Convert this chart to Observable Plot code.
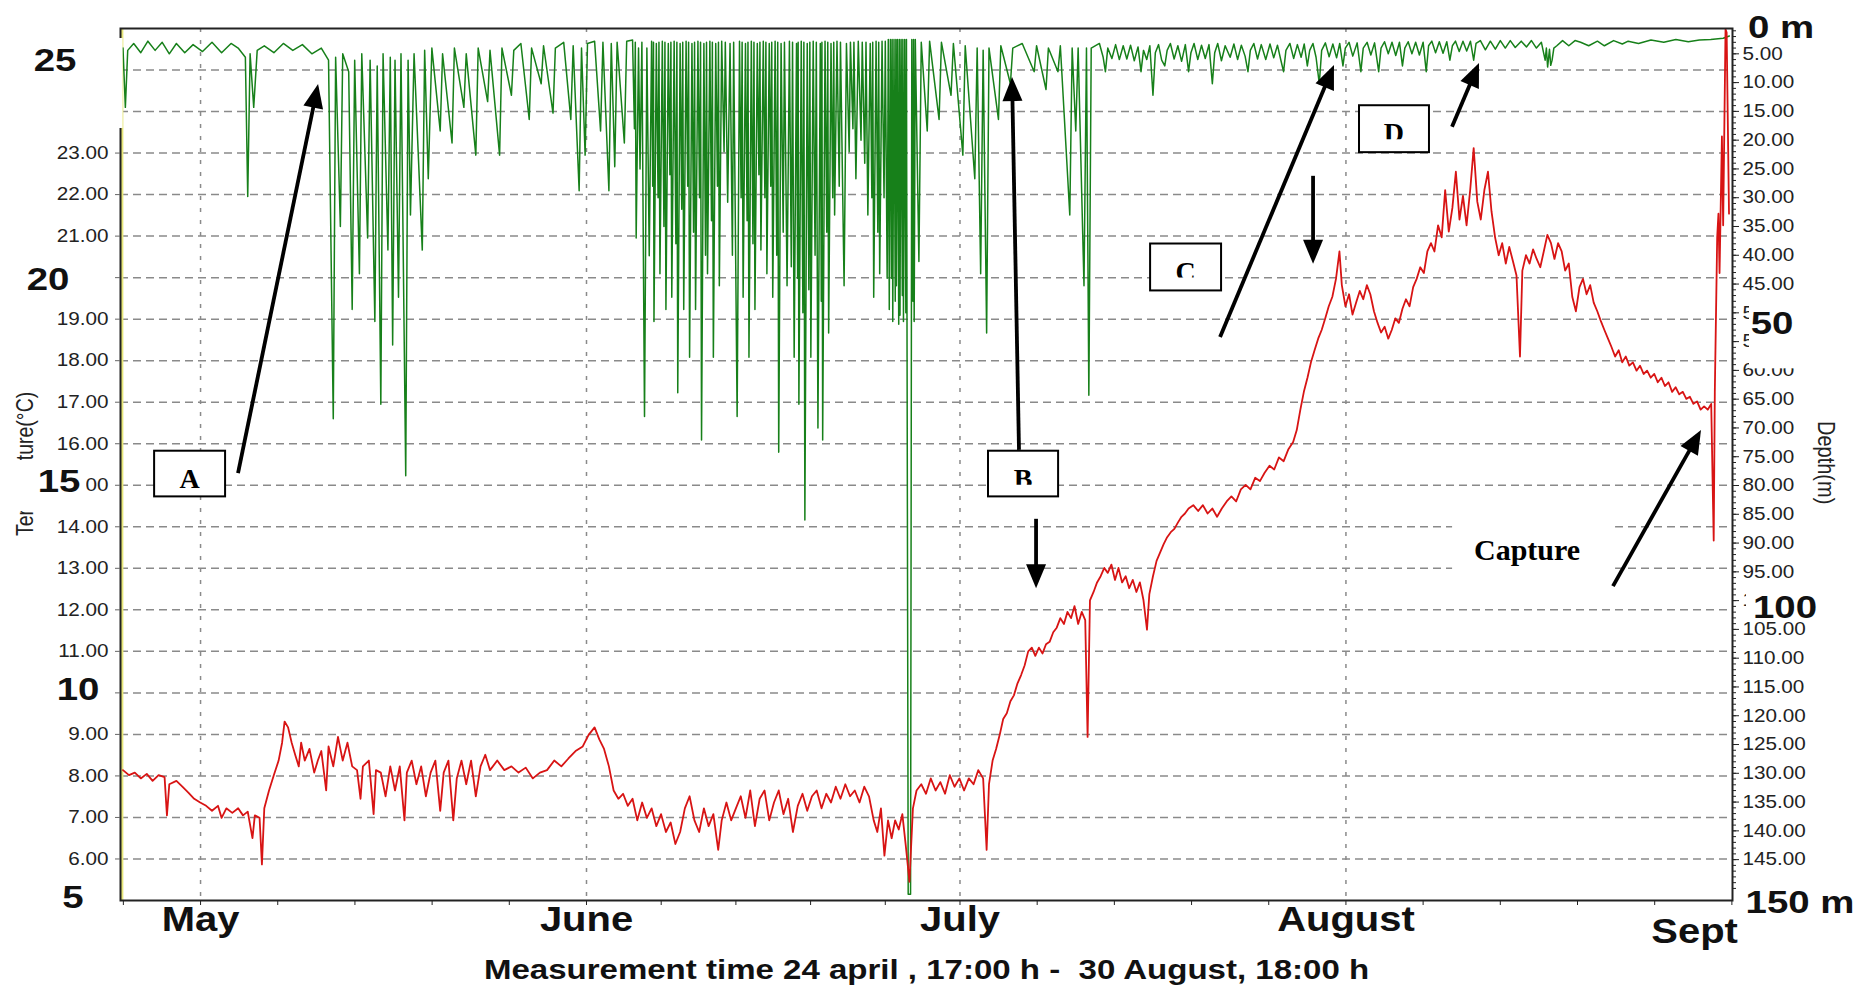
<!DOCTYPE html>
<html><head><meta charset="utf-8">
<script src="https://cdn.jsdelivr.net/npm/d3@7"></script>
<script src="https://cdn.jsdelivr.net/npm/@observablehq/plot@0.6"></script>
<style>
html,body{margin:0;padding:0;background:#fff;}
#chart{width:1863px;height:985px;overflow:hidden;}
</style></head><body><div id="chart"></div>
<script>
// Time axis: days counted from 1 May 00:00 (negative values = late April)
const monthNames = ["May", "June", "July", "August", "Sept"];
const monthStartDays = [0, 31, 61, 92, 123];
const gridMonthDays = [0, 31, 61, 92];
const xTickDays = [-6.2, 0, 6.2, 12.4, 18.6, 24.8, 31, 37, 43, 49, 55, 61, 67.2, 73.4, 79.6, 85.8, 92, 98.2, 104.4, 110.6, 116.8, 123];
const startDay = -6.3; // 24 April 17:00

// Temperature axis (left)
const tempGridValues = [6, 7, 8, 9, 10, 11, 12, 13, 14, 15, 16, 17, 18, 19, 20, 21, 22, 23, 24, 25];
const tempLabelValues = [6, 7, 8, 9, 11, 12, 13, 14, 15, 16, 17, 18, 19, 21, 22, 23];
const bigTempLabels = ["25", "20", "15", "10", "5"];
const bigTempValues = [25, 20, 15, 10, 5];

// Depth axis (right)
const depthLabelTicks = [5, 10, 15, 20, 25, 30, 35, 40, 45, 50, 55, 60, 65, 70, 75, 80, 85, 90, 95, 100, 105, 110, 115, 120, 125, 130, 135, 140, 145];
const bigDepthLabels = ["0 m", "50", "100", "150 m"];
const bigDepthValues = [0, 50, 100, 150];

// Temperature series (°C)
const tempDays = [-6.23,-5.75,-5.28,-4.8,-4.32,-3.85,-3.37,-2.89,-2.7,-2.51,-1.94,-1.46,-0.98,-0.51,-0.03,0.45,0.92,1.4,1.69,2.07,2.55,3.02,3.41,3.79,4.17,4.36,4.74,4.93,5.12,5.5,5.89,6.27,6.55,6.75,7.03,7.32,7.6,7.89,8.08,8.37,8.75,9.13,9.42,9.7,10.09,10.28,10.66,11.04,11.42,11.8,12.18,12.57,12.85,13.04,13.52,13.9,14.09,14.48,14.86,15.24,15.62,16,16.38,16.57,16.96,17.34,17.72,18.1,18.48,18.86,19.25,19.53,19.91,20.3,20.58,20.96,21.34,21.73,22.11,22.49,22.87,23.25,23.83,24.4,24.97,25.54,26.12,26.69,27.26,27.83,28.41,28.98,29.55,30.12,30.7,31.17,31.65,32.03,32.41,32.8,33.18,33.56,33.94,34.32,34.7,35.08,35.47,35.85,36.23,36.61,36.99,37.38,37.76,38.14,38.52,38.9,39.28,39.67,40.05,40.43,40.81,41.19,41.58,41.86,42.24,42.62,43,43.39,43.77,44.15,44.53,44.91,45.3,45.68,46.06,46.44,46.82,47.2,47.58,47.97,48.35,48.73,49.11,49.49,49.88,50.26,50.64,51.02,51.4,51.79,52.17,52.55,52.93,53.31,53.69,54.07,54.36,54.65,54.93,55.22,55.51,55.79,56.08,56.37,56.65,56.94,57.22,57.51,57.89,58.27,58.65,59.04,59.42,59.8,60.18,60.56,60.95,61.33,61.71,62.09,62.47,62.86,63.14,63.33,63.62,63.9,64.19,64.47,64.76,65.05,65.33,65.62,65.91,66.19,66.48,66.77,67.05,67.34,67.63,67.91,68.2,68.49,68.77,69.06,69.35,69.63,69.92,70.2,70.49,70.78,71.06,71.25,71.44,71.73,72.01,72.3,72.59,72.87,73.16,73.45,73.73,74.02,74.31,74.59,74.88,75.17,75.45,75.74,76.02,76.21,76.5,76.79,77.07,77.36,77.64,77.93,78.22,78.5,78.79,79.07,79.36,79.74,80.13,80.51,80.89,81.27,81.65,82.03,82.42,82.8,83.18,83.56,83.95,84.33,84.71,85.09,85.47,85.86,86.24,86.62,87,87.38,87.76,88.05,88.34,88.62,88.91,89.19,89.48,89.77,90.05,90.34,90.62,90.91,91.2,91.48,91.67,91.96,92.25,92.53,92.82,93.11,93.39,93.68,93.96,94.25,94.54,94.82,95.11,95.4,95.68,95.97,96.25,96.54,96.82,97.11,97.4,97.68,97.97,98.26,98.54,98.83,99.11,99.4,99.69,99.97,100.26,100.55,100.83,101.12,101.4,101.69,101.98,102.26,102.55,102.83,103.12,103.41,103.69,103.98,104.27,104.55,104.84,105.12,105.41,105.7,105.98,106.17,106.46,106.75,107.03,107.32,107.61,107.89,108.18,108.47,108.75,109.04,109.33,109.61,109.9,110.18,110.47,110.76,111.04,111.33,111.62,111.9,112.19,112.47,112.76,113.05,113.33,113.62,113.91,114.19,114.48,114.76,115.05,115.34,115.62,115.91,116.19,116.48,116.77,117.05,117.34,117.62,117.91,118.2,118.48,118.77,119.06,119.34,119.63,119.91,120.2,120.49,120.77,121.06,121.34,121.54,121.63,121.82,121.92,122.01,122.2,122.3,122.49,122.58,122.77];
const tempValues = [8.14,8.02,8.08,7.94,8.05,7.88,8.02,7.97,7.05,7.8,7.88,7.74,7.6,7.45,7.36,7.28,7.16,7.28,6.99,7.22,7.11,7.22,7.05,7.14,6.5,7.05,6.99,5.87,7.22,7.65,8.02,8.37,8.8,9.31,9.17,8.8,8.51,8.23,8.8,8.37,8.65,8.08,8.37,8.6,7.65,8.71,8.23,8.94,8.37,8.8,8.23,8.14,7.45,8.23,8.37,7.08,8.14,8.08,7.51,8.23,7.65,8.23,6.93,8.08,8.37,7.8,8.23,7.51,8.08,8.37,7.16,8.08,8.37,6.93,7.94,8.37,7.8,8.37,7.51,8.23,8.51,8.14,8.37,8.14,8.23,8.08,8.2,7.94,8.08,8.14,8.37,8.23,8.42,8.6,8.71,8.99,9.17,8.88,8.65,8.23,7.65,7.45,7.57,7.28,7.45,6.93,7.36,6.99,7.22,6.79,7.08,6.65,6.88,6.36,6.65,7.22,7.51,6.93,6.65,7.22,6.79,7.08,6.22,6.93,7.36,6.93,7.22,7.51,6.99,7.65,6.79,7.45,7.65,6.93,7.36,7.65,7.08,7.45,6.65,7.28,7.57,7.16,7.51,7.65,7.22,7.57,7.36,7.74,7.45,7.8,7.51,7.65,7.36,7.74,7.51,6.93,6.65,7.22,6.08,6.93,6.5,6.93,6.71,7.08,6.31,5.45,7.22,7.65,7.8,7.57,7.94,7.65,7.85,7.57,8.02,7.74,7.94,7.65,7.94,7.8,8.14,7.94,6.22,7.8,8.37,8.65,8.99,9.37,9.51,9.8,9.94,10.23,10.43,10.66,11,11.09,10.89,11.09,10.95,11.17,11.23,11.46,11.57,11.8,11.66,11.95,11.8,12.09,11.66,11.95,11.75,8.94,12.23,12.43,12.66,12.81,13.01,12.89,13.09,12.72,13.01,12.66,12.81,12.52,12.72,12.43,12.66,12.23,11.52,12.38,12.81,13.18,13.38,13.58,13.75,13.87,13.95,14.1,14.24,14.32,14.44,14.52,14.38,14.52,14.32,14.44,14.24,14.44,14.61,14.73,14.61,14.9,15.01,14.9,15.18,15.1,15.3,15.47,15.38,15.67,15.58,15.87,16.04,16.33,16.82,17.25,17.59,17.96,18.25,18.53,18.74,19.02,19.31,19.54,19.97,20.63,19.82,19.31,19.6,19.11,19.4,19.68,19.48,19.82,19.6,19.19,18.91,18.68,18.82,18.53,18.74,19.02,18.91,19.25,19.48,19.31,19.77,19.97,20.25,20.11,20.63,20.83,20.63,21.26,20.97,22.11,21.11,21.68,22.55,21.4,21.97,21.26,22.11,23.12,21.83,21.4,22.11,22.55,21.6,20.97,20.54,20.83,20.34,20.74,20.4,20.05,18.1,20.17,20.54,20.34,20.68,20.45,20.25,20.63,21.03,20.83,20.45,20.83,20.63,20.17,20.34,19.54,19.19,19.77,19.97,19.6,19.82,19.4,19.19,18.96,18.74,18.53,18.33,18.1,18.25,17.96,18.1,17.88,17.96,17.76,17.88,17.68,17.76,17.59,17.68,17.48,17.59,17.39,17.48,17.25,17.36,17.19,17.25,17.08,17.13,16.96,17.02,16.82,16.9,16.82,16.96,13.67,17.25,20.97,21.54,20.11,23.4,21.26,25.98,25.9,21.54];

// Depth series: [day, depth in m]
const depthSeries = [
[-6.23,4],[-6.04,14.3],[-5.85,4.4],[-5.37,3.2],[-4.8,4.8],[-4.23,2.8],[-3.65,4.4],[-3.08,3],[-2.51,5],[-1.94,3.2],[-1.27,4.8],[-0.6,3.4],[0.16,4.6],[0.92,3],[1.69,4.8],[2.45,3.2],[3.02,4],[3.6,5.6],[3.79,29.8],[3.98,5],[4.27,14.3],[4.55,4.4],[5.12,3.6],[5.89,4.8],[6.65,3.2],[7.41,4.4],[8.18,3.4],[8.94,5],[9.7,4],[10.28,6.1],[10.66,68.4],[10.85,5.6],[11.23,35],[11.42,5],[11.9,8.1],[12.18,49.4],[12.38,6.1],[12.76,43.2],[12.95,5],[13.42,37],[13.62,6.1],[14,51.5],[14.19,7.1],[14.48,65.9],[14.66,5],[15.05,39.1],[15.24,5.6],[15.43,55.6],[15.62,6.1],[15.9,47.3],[16.1,5],[16.48,78.3],[16.67,6.1],[16.86,33],[17.15,5],[17.81,39.1],[18,4.4],[18.29,26.7],[18.58,4],[19.25,18.4],[19.44,5],[20.2,20.5],[20.39,4],[21.15,14.3],[21.34,5],[22.11,22.6],[22.3,4],[23.06,13.3],[23.25,4.4],[24.02,22.6],[24.21,4],[24.97,12.2],[25.16,4.4],[25.73,3.2],[26.4,16.4],[26.59,4],[27.36,10.2],[27.55,3.6],[28.31,15.3],[28.5,4],[29.17,3],[29.74,16.4],[29.93,3.6],[30.41,28.8],[30.6,4],[30.89,22.6],[31.08,3.2],[31.65,2.8],[32.13,18.4],[32.32,3],[32.8,28.8],[32.99,3.2],[33.27,24.6],[33.46,3],[34.04,20.5],[34.23,2.8],
[34.7,2.6],[34.85,18],[34.92,3],[34.99,37],[35.18,4],[35.3,25],[35.45,3],[35.66,68],[35.85,4],[36.04,40.1],[36.23,2.8],[36.32,28],[36.38,3],[36.42,51.5],[36.61,3.2],[36.75,30],[36.82,3],[36.9,43.2],[37.09,2.8],[37.22,35],[37.3,3],[37.38,49.4],[37.57,3.2],[37.7,26],[37.78,3],[37.85,47.3],[38.04,2.8],[38.18,38],[38.26,3],[38.33,63.9],[38.52,3.2],[38.65,32],[38.73,3],[38.81,49.4],[39,2.8],[39.13,28],[39.2,3],[39.28,57.7],[39.47,3.2],[39.6,36],[39.68,3],[39.76,49.4],[39.95,2.8],[40.08,30],[40.16,3],[40.24,72.1],[40.43,3.2],[40.56,40],[40.64,3],[40.72,43.2],[40.91,2.8],[41.04,34],[41.11,3],[41.19,57.7],[41.38,3.2],[41.52,28],[41.6,3],[41.67,45.3],[41.86,2.8],[42.05,22],[42.15,3],[42.34,30.8],[42.53,3.2],[42.72,40],[42.82,3],[43.1,68],[43.29,2.8],[43.42,30],[43.5,3],[43.58,47.3],[43.77,3.2],[43.9,34],[43.97,3],[44.05,57.7],[44.24,2.8],[44.37,38],[44.45,3],[44.53,49.4],[44.72,3.2],[44.85,26],[44.93,3],[45.01,39.1],[45.2,2.8],[45.33,30],[45.41,3],[45.49,43.2],[45.68,3.2],[45.8,28],[45.88,3],[45.96,47.3],[46.15,2.8],[46.28,40],[46.36,3],[46.44,74.2],[46.63,3.2],[46.8,36],[46.9,3],[47.11,45.3],[47.3,2.8],[47.45,42],[47.55,3],[47.68,57.7],[47.87,3.2],[47.96,44],[48,3],[48.06,65.9],[48.25,2.8],[48.38,50],[48.46,3],[48.54,86],[48.73,3.2],[48.86,46],[48.94,3],[49.02,57.7],[49.21,2.8],[49.36,40],[49.46,3],[49.59,70],[49.78,3.2],[49.86,48],[49.91,3],[49.97,72.1],[50.16,2.8],[50.3,36],[50.38,3],[50.45,53.5],[50.64,3.2],[50.78,30],[50.86,3],[50.93,33],[51.12,2.8],[51.3,28],[51.4,3],[51.69,45.3],[51.88,3.2],[52.1,22],[52.2,3],[52.4,18],[52.48,3],[52.64,26.7],[52.83,2.8],[53.05,20],[53.15,3],[53.35,24],[53.45,3],[53.6,33],[53.79,3.2],[53.92,30],[53.99,3],[54.07,47.3],[54.26,2.8],[54.4,36],[54.47,3],[54.55,43.2],[54.74,2.8],[54.9,30],[55,2.8],[55.15,44],[55.24,2.5],
[55.32,49.4],[55.41,2.5],[55.5,44],[55.55,2.5],[55.6,51.5],[55.7,2.5],[55.8,48],[55.85,2.5],[55.89,45.3],[55.98,2.5],[56.08,52],[56.13,2.5],[56.18,50.4],[56.27,2.5],[56.37,47],[56.41,2.5],[56.46,51.5],[56.56,2.5],[56.65,50],[56.7,2.5],[56.75,57.7],[56.84,151],[57.03,151],[57.13,2.5],[57.22,48],[57.27,2.5],[57.32,51.5],[57.41,2.5],
[57.7,41.1],[57.89,3],[58.37,18.4],[58.56,2.8],[59.32,16.4],[59.51,3],[60.28,12.2],[60.47,3.2],[61.23,22.6],[61.42,3.6],[62.19,26.7],[62.38,4],[62.66,43.2],[62.86,4.4],[63.14,53.5],[63.33,4],[64.09,16.4],[64.28,3.6],[65.05,10.2],[65.24,4],[66,3.2],[66.96,8.1],[67.15,3.6],[67.91,11.2],[68.1,4],[68.87,8.1],[69.06,3.6],[69.82,33],[70.01,4],[70.3,18.4],[70.49,4],[70.96,45.3],[71.16,4],[71.35,64.3],[71.54,4],
[72.2,3.2],[72.5,5.6],[72.68,8.1],[72.87,4],[73.2,5.8],[73.5,3.4],[73.8,6],[74.11,3.6],[74.4,5.9],[74.7,3.5],[75,6.2],[75.3,3.8],[75.54,8.1],[75.74,4.4],[76,6],[76.25,3.6],[76.5,12.2],[76.69,4.8],[76.95,3.4],[77.2,6.1],[77.45,7.1],[77.64,4.4],[77.9,3.2],[78.2,5.9],[78.5,3.6],[78.8,6.3],[79.1,3.4],[79.36,8.1],[79.55,4.8],[79.8,3.2],[80.1,6],[80.4,3.5],[80.7,5.8],[81,3.4],[81.27,10.2],[81.46,4.8],[81.7,3.2],[82,6.2],[82.3,3.6],[82.7,5.6],[83,3.3],[83.3,6],[83.6,3.5],[83.9,5.4],[84.13,8.1],[84.32,4.4],[84.6,3.2],[84.9,5.9],[85.2,3.4],[85.56,6],[85.9,3.3],[86.2,5.7],[86.5,3.5],[86.75,5.9],[86.99,8.1],[87.18,4.4],[87.5,3.2],[87.8,5.8],[88.1,3.4],[88.4,5.6],[88.65,3.3],[88.9,7.1],[89.09,4.4],[89.35,3.2],[89.6,5.6],[89.86,10.2],[90.05,4.4],[90.35,3.1],[90.65,5.5],[90.95,3.3],[91.25,5.7],[91.5,3.2],[91.76,7.1],[91.95,4],[92.25,3],[92.55,5.4],[92.9,3.1],[93.2,8.1],[93.39,4],[93.7,3],[94,5.2],[94.3,3.1],[94.63,8.1],[94.82,4],[95.1,2.9],[95.4,5],[95.7,3],[96,5.3],[96.3,3],[96.54,7.1],[96.73,4],[97,2.9],[97.3,5],[97.6,3],[97.9,5.2],[98.2,3],[98.45,8.1],[98.64,3.6],[98.9,2.8],[99.2,4.8],[99.5,2.9],[99.8,4.9],[100.1,2.9],[100.35,6.1],[100.55,3.6],[100.8,2.8],[101.1,4.6],[101.4,2.8],[101.7,4.5],[102,2.8],[102.26,6.1],[102.45,3.2],[102.8,2.7],[103.2,4.3],[103.6,2.8],[104,4.2],[104.4,2.7],[104.8,4],[105.2,2.7],[105.6,3.9],[106.08,2.8],[106.5,3.8],[106.9,2.7],[107.3,4],[107.7,3],[108,6.1],[108.1,4],[108.2,7.3],[108.35,4.2],[108.45,7],[108.56,6.1],[108.7,4],[108.94,3.6],[109.4,2.7],[109.9,3.6],[110.4,2.7],[110.85,3],[111.5,3.6],[112.2,2.8],[112.76,3.6],[113.5,2.7],[114.2,3.3],[114.67,2.8],[115.5,3.2],[116.5,2.6],[117.53,3],[118.5,2.5],[119.5,2.9],[120.39,2.6],[121.3,2.5],[122.3,2.3],[122.8,1.9]
];

// Annotations (boxes, arrows, text) placed in data coordinates
const boxLabels = ["A", "B", "C", "D"];
const boxDay1 = [-3.69, 63.29, 76.31, 93.09];
const boxDay2 = [2.01, 68.92, 82.01, 98.71];
const boxTempLow = [14.72, 14.72, 19.68, 23.01];
const boxTempHigh = [15.82, 15.82, 20.81, 24.14];
const arrowFromDay = [3.05, 65.78, 67.15, 81.93, 89.4, 100.56, 113.49];
const arrowFromTemp = [15.28, 15.84, 14.18, 18.56, 22.44, 23.62, 12.56];
const arrowToDay = [9.48, 65.22, 67.15, 91.08, 89.4, 102.73, 120.56];
const arrowToTemp = [24.65, 24.82, 12.51, 25.11, 20.32, 25.16, 16.32];
const captureLabel = "Capture";
const captureDay = 106.59, captureTemp = 13.43;
const xCaption = "Measurement time 24 april , 17:00 h -  30 August, 18:00 h";
const leftTitle = "Temperature(°C)";
const rightTitle = "Depth(m)";

// ---- derived tables ----
const tempTable = tempDays.map((d, i) => ({day: d, temp: tempValues[i]}));
const depthTable = depthSeries.map(([d, m]) => ({day: d, depth: m}));
const monthTable = monthNames.map((n, i) => ({name: n, day: monthStartDays[i]}));
const boxes = boxLabels.map((l, i) => ({label: l, d1: boxDay1[i], d2: boxDay2[i], t1: boxTempLow[i], t2: boxTempHigh[i]}));
const arrows = arrowFromDay.map((d, i) => ({x1: d, y1: arrowFromTemp[i], x2: arrowToDay[i], y2: arrowToTemp[i]}));

const tempDomain = [5, 26];
const depthAtTop = 0.6, depthAtBottom = 152.1; // depth scale read at the frame's top and bottom
const depthToT = d => tempDomain[1] - (d - depthAtTop) * (tempDomain[1] - tempDomain[0]) / (depthAtBottom - depthAtTop);
const tToDepth = t => depthAtTop + (tempDomain[1] - t) * (depthAtBottom - depthAtTop) / (tempDomain[1] - tempDomain[0]);
const depthMinorTicks = d3.range(1, 151);
const labelSet = new Set(tempLabelValues);
const SANS = "Liberation Sans, Arial, sans-serif";
const SERIF = "Liberation Serif, Times New Roman, serif";

function titlesMark() {
  const g = d3.create("svg:g");
  g.append("text").attr("transform", `translate(33,536) rotate(-90) scale(1,1.2)`).attr("text-anchor", "start")
    .attr("font-size", 19.5).attr("font-family", SANS).attr("fill", "#222").text(leftTitle);
  g.append("text").attr("transform", `translate(1818,421) rotate(90) scale(1,1.2)`).attr("text-anchor", "start")
    .attr("font-size", 20).attr("font-family", SANS).attr("fill", "#222").text(rightTitle);
  return g.node();
}

function covers(index, scales, values, dim) {
  const g = d3.create("svg:g");
  const L = dim.marginLeft, R = dim.width - dim.marginRight;
  const Y = scales.y;
  const rects = [
    [0, 38, L + 2.5, 128 - 38],
    [18, Y(20) - 13, L - 14 - 18, 27],
    [28, Y(15) - 16, 86 - 28, 30],
    [48, Y(10) - 16, L - 10 - 48, 28],
    [6, 460, 34, 51],
    [R + 17, Y(depthToT(50)) - 14, 120, 70],
    [R + 14, Y(depthToT(100)) - 12, 120, 26]
  ];
  for (const [x, y, w, h] of rects) g.append("rect").attr("x", x).attr("y", y).attr("width", w).attr("height", h).attr("fill", "white");
  return g.node();
}

function bigText(g, cx, cy, str, size, sx) {
  g.append("text").attr("transform", `translate(${cx},${cy}) scale(${sx},1)`)
    .attr("text-anchor", "middle").attr("y", 0.36 * size)
    .attr("font-size", size).attr("font-weight", "bold").attr("font-family", SANS)
    .attr("fill", "#111").text(str);
}

function labelsMark(index, scales, values, dim) {
  const g = d3.create("svg:g");
  const L = dim.marginLeft, R = dim.width - dim.marginRight;
  const Y = scales.y;
  const leftDx = [-65, -72, -61, -42, -47];
  const leftDy = [-10, 1, -4, -4, -4];
  bigTempLabels.forEach((s, i) => bigText(g, L + leftDx[i], Y(bigTempValues[i]) + leftDy[i], s, 32, 1.2));
  const rightDx = [49, 40, 53, 68];
  const rightDy = [1.5, 10, 6, 14];
  bigDepthLabels.forEach((s, i) => bigText(g, R + rightDx[i], Y(depthToT(bigDepthValues[i])) + rightDy[i], s, 32, 1.2));
  return g.node();
}

function boxesMark(index, scales) {
  const g = d3.create("svg:g");
  const defs = g.append("defs");
  boxes.forEach((b, i) => {
    const x1 = scales.x(b.d1), x2 = scales.x(b.d2), y1 = scales.y(b.t2), y2 = scales.y(b.t1);
    const id = "boxclip" + i;
    defs.append("clipPath").attr("id", id).append("rect")
      .attr("x", x1).attr("y", y1).attr("width", x2 - x1).attr("height", b.label === "A" ? 38 : 34);
    g.append("rect").attr("x", x1).attr("y", y1).attr("width", x2 - x1).attr("height", y2 - y1)
      .attr("fill", "white").attr("stroke", "#000").attr("stroke-width", 2);
    g.append("text").attr("clip-path", `url(#${id})`)
      .attr("x", (x1 + x2) / 2).attr("y", y1 + 37).attr("text-anchor", "middle")
      .attr("font-family", SERIF).attr("font-weight", "bold").attr("font-size", 28).attr("fill", "#000")
      .text(b.label);
  });
  const cx = scales.x(captureDay), cy = scales.y(captureTemp);
  g.append("rect").attr("x", cx - 75).attr("y", cy - 30).attr("width", 163).attr("height", 60).attr("fill", "white");
  g.append("text").attr("x", cx).attr("y", cy + 10).attr("text-anchor", "middle")
    .attr("font-family", SERIF).attr("font-weight", "bold").attr("font-size", 30).attr("fill", "#000").text(captureLabel);
  return g.node();
}

function arrowsMark(index, scales) {
  const g = d3.create("svg:g");
  for (const a of arrows) {
    const x1 = scales.x(a.x1), y1 = scales.y(a.y1), x2 = scales.x(a.x2), y2 = scales.y(a.y2);
    const ang = Math.atan2(y2 - y1, x2 - x1), Lh = 24, W = 10;
    const bx = x2 - Lh * Math.cos(ang), by = y2 - Lh * Math.sin(ang);
    const px = -Math.sin(ang) * W, py = Math.cos(ang) * W;
    g.append("line").attr("x1", x1).attr("y1", y1).attr("x2", bx + 2 * Math.cos(ang)).attr("y2", by + 2 * Math.sin(ang))
      .attr("stroke", "#000").attr("stroke-width", 3.8);
    g.append("path").attr("d", `M${x2},${y2}L${bx + px},${by + py}L${bx - px},${by - py}Z`).attr("fill", "#000");
  }
  return g.node();
}

const plot = Plot.plot({
  width: 1863, height: 985,
  marginLeft: 120, marginRight: 131, marginTop: 28, marginBottom: 85,
  x: {domain: [-6.43, 123.05], axis: null},
  y: {domain: tempDomain, axis: null},
  style: {fontFamily: SANS, background: "white", color: "#222", overflow: "visible"},
  marks: [
    Plot.ruleY(tempGridValues, {stroke: "#8a8a8a", strokeWidth: 1.5, strokeDasharray: "8,5"}),
    Plot.ruleX(gridMonthDays, {stroke: "#8a8a8a", strokeWidth: 1.5, strokeDasharray: "4,8"}),
    Plot.ruleX([startDay], {stroke: "#e6e67a", strokeWidth: 2.5}),
    Plot.line(depthTable, {x: "day", y: d => depthToT(d.depth), stroke: "#17801a", strokeWidth: 1.5}),
    Plot.line(tempTable, {x: "day", y: "temp", stroke: "#d81414", strokeWidth: 1.8}),
    Plot.frame({stroke: "#222", strokeWidth: 2}),
    Plot.axisY(tempGridValues, {anchor: "left", tickSize: 5, tickPadding: 7, stroke: "#666",
      tickFormat: t => labelSet.has(t) ? t.toFixed(2) : "", label: null, fontSize: 18}),
    Plot.axisY(depthMinorTicks.map(depthToT), {anchor: "right", tickSize: 3, tickFormat: () => "", label: null}),
    Plot.axisY(depthLabelTicks.map(depthToT), {anchor: "right", tickSize: 6, tickPadding: 4,
      tickFormat: t => tToDepth(t).toFixed(2), label: null, fontSize: 18}),
    Plot.axisX(xTickDays, {anchor: "bottom", tickSize: 5, tickFormat: () => "", label: null}),
    Plot.text(monthTable.slice(0, 4), {x: "day", text: "name", frameAnchor: "bottom", dy: 30,
      fontSize: 36, fontWeight: "bold", fill: "#111"}),
    Plot.text(monthTable.slice(4), {x: "day", text: "name", frameAnchor: "bottom", dy: 42, dx: 6, textAnchor: "end",
      fontSize: 36, fontWeight: "bold", fill: "#111"}),
    Plot.text([xCaption], {text: d => d, frameAnchor: "bottom", dy: 78, fontSize: 28, fontWeight: "bold", fill: "#111"}),
    titlesMark,
    covers,
    labelsMark,
    boxesMark,
    arrowsMark
  ]
});

function stretch(svg, selector, sx) {
  svg.querySelectorAll(selector).forEach(t => {
    const tr = t.getAttribute("transform");
    if (tr) t.setAttribute("transform", tr + ` scale(${sx},1)`);
    else {
      const x = +t.getAttribute("x") || 0, y = +t.getAttribute("y") || 0;
      t.setAttribute("transform", `translate(${x},${y}) scale(${sx},1) translate(${-x},${-y})`);
    }
  });
}
stretch(plot, 'g[aria-label="y-axis tick label"] text', 1.15);
stretch(plot, 'g[font-size="36"] text', 1.11);
stretch(plot, 'g[font-size="28"] text', 1.18);
document.getElementById("chart").appendChild(plot);
</script>
</body></html>
